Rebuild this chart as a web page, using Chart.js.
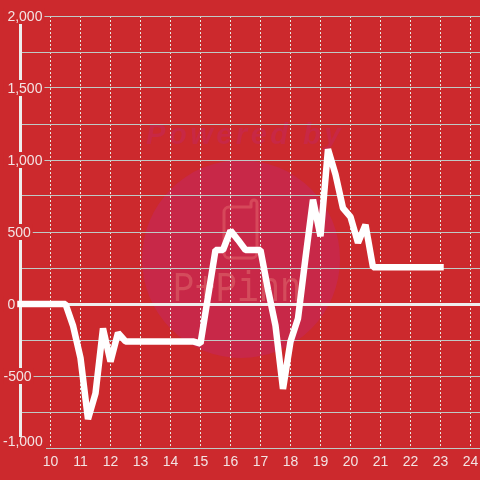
<!DOCTYPE html>
<html><head><meta charset="utf-8">
<style>html,body{margin:0;padding:0;background:#cc292d}canvas{display:block}</style>
<script src="https://cdn.jsdelivr.net/npm/chart.js@4"></script></head>
<body><div style="width:480px;height:480px"><canvas id="c" width="480" height="480"></canvas></div>
<script>
const hours=[9,9.25,9.5,9.75,10,10.25,10.5,10.75,11,11.25,11.5,11.75,12,12.25,12.5,12.75,13,13.25,13.5,13.75,14,14.25,14.5,14.75,15,15.25,15.5,15.75,16,16.25,16.5,16.75,17,17.25,17.5,17.75,18,18.25,18.5,18.75,19,19.25,19.5,19.75,20,20.25,20.5,20.75,21,21.25,21.5,21.75,22,22.25,22.5,22.75,23];
const values=[0,0,0,0,0,0,0,-150,-375,-800,-620,-170,-400,-200,-260,-260,-260,-260,-260,-260,-260,-260,-260,-260,-275,50,375,375,510,445,375,375,375,100,-150,-590,-260,-100,320,725,470,1075,900,665,605,425,550,255,255,255,255,255,255,255,255,255,255];
const yLabels={'2000':' 2,000','1500':' 1,500','1000':' 1,000','500':' 500','0':' 0','-500':'-500'};
const bottomLabel='-1,000';
const BG='#cc292d',TXT='#f3e3e3',GRID='#bfc9c6',AXIS='#eeeeee',FONT='"Liberation Sans"';
const watermark={id:'watermark',
 beforeDraw(ch){const c=ch.ctx;c.save();
  c.fillStyle=BG;c.fillRect(0,0,480,480);
  c.fillStyle='#c82848';c.beginPath();c.arc(241,259,99,0,Math.PI*2);c.fill();
  c.fillStyle='#c82845';c.font='italic bold 29px '+FONT;c.textAlign='center';c.textBaseline='middle';c.letterSpacing='3.5px';c.fillText('Powered by',245,136);c.letterSpacing='0px';
  c.strokeStyle='#d6485a';c.lineWidth=3;c.lineJoin='round';c.beginPath();c.moveTo(229,207);c.lineTo(251,207);c.lineTo(251,203);c.arcTo(251,200,254,200,3);c.arcTo(257,200,257,203,3);c.lineTo(257,253);c.arcTo(257,258,252,258,5);c.lineTo(229,258);c.arcTo(224,258,224,253,5);c.lineTo(224,212);c.arcTo(224,207,229,207,5);c.closePath();c.stroke();
  c.fillStyle='#d44c5c';c.translate(173,290);c.scale(.85,1);c.textAlign='left';c.font='42px "Liberation Mono"';c.fillText('P+Pinn',0,0);
  c.restore();},
 beforeDatasetsDraw(ch){const c=ch.ctx,y=ch.scales.y.getPixelForValue(-1000);c.save();
  c.fillStyle=BG;c.fillRect(0,y-11,46,12);
  c.fillStyle=TXT;c.font='14px '+FONT;c.textAlign='left';c.textBaseline='middle';c.fillText(bottomLabel,3,y-6);
  c.restore();}};
new Chart(document.getElementById('c'),{type:'line',
 data:{datasets:[{data:hours.map((h,i)=>({x:h,y:values[i]})),borderColor:'#fff',borderWidth:6.5,borderCapStyle:'square',borderJoinStyle:'bevel',pointRadius:0,tension:0,fill:false,clip:false}]},
 plugins:[watermark],
 options:{responsive:false,animation:false,layout:{padding:{top:16,left:0,right:0,bottom:0}},
  plugins:{legend:{display:false},tooltip:{enabled:false},title:{display:false}},
  scales:{
   x:{type:'linear',min:9,max:24.317,afterFit(s){s.height=32;s.paddingLeft=0;s.paddingRight=0},
    grid:{color:'#e8e8e0',lineWidth:1,drawTicks:false},
    border:{display:false,dash:[2,2]},
    ticks:{stepSize:1,includeBounds:false,autoSkip:false,maxRotation:0,padding:6,color:TXT,font:{size:14,family:FONT},callback:v=>v===9?'':String(v)}},
   y:{type:'linear',min:-1000,max:2000,afterFit(s){s.width=20.5;s.paddingTop=0;s.paddingBottom=0},
    grid:{drawTicks:false,color:c=>c.tick.value===0?AXIS:GRID,lineWidth:c=>c.tick.value===0?3:1},
    border:{display:true,color:AXIS,width:3},
    ticks:{stepSize:250,autoSkip:false,mirror:true,padding:-17,labelOffset:1,color:TXT,font:{size:14,family:FONT},
     showLabelBackdrop:c=>c.tick.value%500===0&&c.tick.value!==-1000,backdropColor:BG,backdropPadding:{left:0,right:2,top:0.6,bottom:-1.4},
     callback:v=>yLabels[String(v)]||''}}
  }}});
</script></body></html>
